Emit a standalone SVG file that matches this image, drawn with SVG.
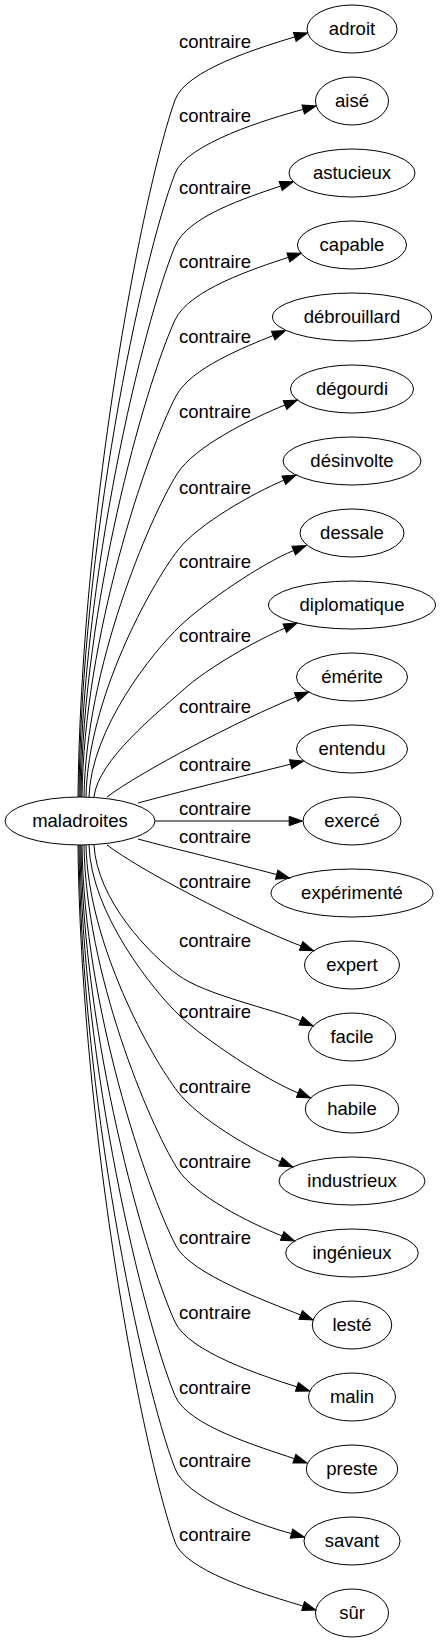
<svg xmlns="http://www.w3.org/2000/svg" width="440" height="1643" viewBox="0 0 440 1643">
<style>
.n ellipse{fill:none;stroke:#000;stroke-width:1}
text{font-family:"Liberation Sans",Arial,sans-serif;font-size:18.5px;fill:#000;text-anchor:middle}
.e path{fill:none;stroke:#000;stroke-width:1;marker-end:url(#ah)}
</style>
<defs>
<marker id="ah" markerUnits="userSpaceOnUse" viewBox="-1 -6 16 12" markerWidth="16" markerHeight="12" refX="0" refY="0" orient="auto">
<path d="M0,-4.67L13.3,0L0,4.67Z" fill="#000" stroke="#000" stroke-width="1"/>
</marker>
</defs>
<rect width="440" height="1643" fill="#fff"/>
<g id="edges" class="e">
<path d="M78,797C81,520 140,200 175,100C185.5,70 260.4,47.4 294.8,36.9"/>
<path d="M79,797C81,547.6 141,262.5 175,173.5C186.4,143.5 268.4,118.7 303.2,109.4"/>
<path d="M80,797C82,577 142.6,325.3 175,246.3C187.3,216.3 246.6,197.7 280.7,186"/>
<path d="M81,797C83,606 144,388 175,320C188.7,290 254.2,268.5 288.4,257.4"/>
<path d="M82,797C84,637 146.4,453 176,396C190.6,368 245.4,346.8 273.2,335.5"/>
<path d="M84,797C86,668 148.5,520 177,474C194.4,446 253.5,417.8 285,405"/>
<path d="M86,797C88,698 151,585 178,550C198,524 254.3,492.7 283.8,480.2"/>
<path d="M89,797C91,729 152.7,652 180,626C205.2,602 262.2,563.3 293.7,550.5"/>
<path d="M94,797C98,760 158,712.5 183,690C208,667.5 257.2,639.9 284.8,628.2"/>
<path d="M107,797C140,772 240,719.6 296.2,697"/>
<path d="M138,803C175,793 240,776.7 290.6,764.2"/>
<path d="M155,821L289.2,821"/>
<path d="M138,839C175,849 228.4,861.7 276.7,874.6"/>
<path d="M107,845C140,870 240,922.4 301.1,946"/>
<path d="M94,845C97,900 150,955 178,975C205,995 273.2,1009.1 300.8,1020.8"/>
<path d="M89,845C91,913 152.7,990 180,1016C205.2,1040 266.7,1080.3 298.2,1093"/>
<path d="M86,845C88,944 151,1057 178,1092C198,1118 251,1149.3 280.5,1161.8"/>
<path d="M84,845C86,974 148.5,1122 177,1168C194.4,1196 250.7,1223.3 282.2,1236"/>
<path d="M82,845C84,1005 146.4,1189 176,1246C190.6,1274 269.2,1302.3 300.7,1315"/>
<path d="M81,845C83,1036 144,1254 175,1322C188.7,1352 262.7,1375.8 296.9,1386.9"/>
<path d="M80,845C82,1065 142.6,1316.7 175,1395.7C187.3,1425.7 260.3,1447 294.4,1458.7"/>
<path d="M79,845C81,1094.4 141,1379.5 175,1468.5C186.4,1498.5 256.7,1524.3 291.5,1533.6"/>
<path d="M78,845C81,1122 140,1442 175,1542C185.5,1572 268.7,1595.6 303.1,1606.1"/>
<text x="215" y="48">contraire</text>
<text x="215" y="121.7">contraire</text>
<text x="215" y="194.3">contraire</text>
<text x="215" y="267.7">contraire</text>
<text x="215" y="342.7">contraire</text>
<text x="215" y="418.3">contraire</text>
<text x="215" y="494.3">contraire</text>
<text x="215" y="568.3">contraire</text>
<text x="215" y="641.7">contraire</text>
<text x="215" y="712.7">contraire</text>
<text x="215" y="771">contraire</text>
<text x="215" y="815">contraire</text>
<text x="215" y="843.3">contraire</text>
<text x="215" y="887.7">contraire</text>
<text x="215" y="946.7">contraire</text>
<text x="215" y="1018.3">contraire</text>
<text x="215" y="1092.7">contraire</text>
<text x="215" y="1167.7">contraire</text>
<text x="215" y="1244">contraire</text>
<text x="215" y="1319.3">contraire</text>
<text x="215" y="1394">contraire</text>
<text x="215" y="1467.3">contraire</text>
<text x="215" y="1541">contraire</text>
</g>
<g id="maladroites" class="n"><ellipse cx="80" cy="821" rx="75" ry="24"/><text x="80" y="827">maladroites</text></g>
<g id="adroit" class="n"><ellipse cx="352" cy="29" rx="45" ry="24"/><text x="352" y="35">adroit</text></g>
<g id="aise" class="n"><ellipse cx="352" cy="101" rx="36.5" ry="24"/><text x="352" y="107">aisé</text></g>
<g id="astucieux" class="n"><ellipse cx="352" cy="173" rx="63" ry="24"/><text x="352" y="179">astucieux</text></g>
<g id="capable" class="n"><ellipse cx="352" cy="245" rx="54.5" ry="24"/><text x="352" y="251">capable</text></g>
<g id="debrouillard" class="n"><ellipse cx="352" cy="317" rx="79.5" ry="24"/><text x="352" y="323">débrouillard</text></g>
<g id="degourdi" class="n"><ellipse cx="352" cy="389" rx="61.5" ry="24"/><text x="352" y="395">dégourdi</text></g>
<g id="desinvolte" class="n"><ellipse cx="352" cy="461" rx="69" ry="24"/><text x="352" y="467">désinvolte</text></g>
<g id="dessale" class="n"><ellipse cx="352" cy="533" rx="52" ry="24"/><text x="352" y="539">dessale</text></g>
<g id="diplomatique" class="n"><ellipse cx="352" cy="605" rx="83.5" ry="24"/><text x="352" y="611">diplomatique</text></g>
<g id="emerite" class="n"><ellipse cx="352" cy="677" rx="55.5" ry="24"/><text x="352" y="683">émérite</text></g>
<g id="entendu" class="n"><ellipse cx="352" cy="749" rx="55.5" ry="24"/><text x="352" y="755">entendu</text></g>
<g id="exerce" class="n"><ellipse cx="352" cy="821" rx="49" ry="24"/><text x="352" y="827">exercé</text></g>
<g id="experimente" class="n"><ellipse cx="352" cy="893" rx="81" ry="24"/><text x="352" y="899">expérimenté</text></g>
<g id="expert" class="n"><ellipse cx="352" cy="965" rx="47.5" ry="24"/><text x="352" y="971">expert</text></g>
<g id="facile" class="n"><ellipse cx="352" cy="1037" rx="43.7" ry="24"/><text x="352" y="1043">facile</text></g>
<g id="habile" class="n"><ellipse cx="352" cy="1109" rx="46.7" ry="24"/><text x="352" y="1115">habile</text></g>
<g id="industrieux" class="n"><ellipse cx="352" cy="1181" rx="73" ry="24"/><text x="352" y="1187">industrieux</text></g>
<g id="ingenieux" class="n"><ellipse cx="352" cy="1253" rx="66.3" ry="24"/><text x="352" y="1259">ingénieux</text></g>
<g id="leste" class="n"><ellipse cx="352" cy="1325" rx="39.7" ry="24"/><text x="352" y="1331">lesté</text></g>
<g id="malin" class="n"><ellipse cx="352" cy="1397" rx="43.5" ry="24"/><text x="352" y="1403">malin</text></g>
<g id="preste" class="n"><ellipse cx="352" cy="1469" rx="45.7" ry="24"/><text x="352" y="1475">preste</text></g>
<g id="savant" class="n"><ellipse cx="352" cy="1541" rx="48" ry="24"/><text x="352" y="1547">savant</text></g>
<g id="sur" class="n"><ellipse cx="352" cy="1613" rx="36.5" ry="24"/><text x="352" y="1619">sûr</text></g>
</svg>
